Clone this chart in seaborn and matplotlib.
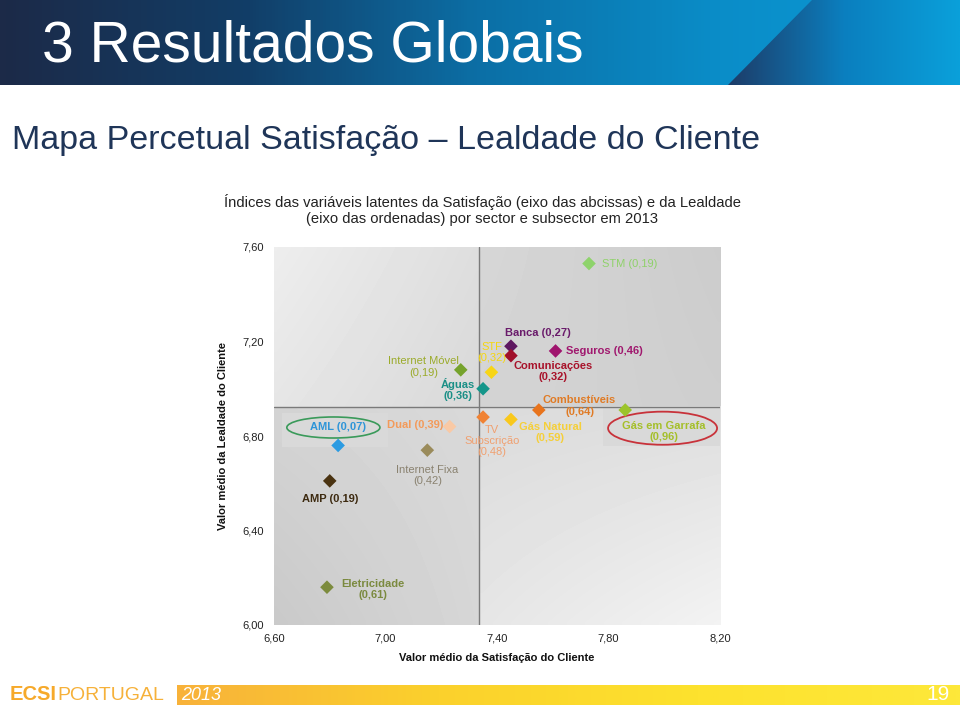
import matplotlib.pyplot as plt
import numpy as np
import pandas as pd
import seaborn as sns
from matplotlib.patches import Ellipse, Rectangle, Polygon
from matplotlib.colors import LinearSegmentedColormap

# Data
sectors = ["STM", "Banca", "Seguros", "Comunicações", "STF", "Internet Móvel",
           "Águas", "Combustíveis", "Gás em Garrafa", "TV Subscrição",
           "Gás Natural", "Dual", "Internet Fixa", "AML", "AMP", "Eletricidade"]
satisfacao = [7.73, 7.45, 7.61, 7.45, 7.38, 7.27, 7.35, 7.55, 7.86, 7.35,
              7.45, 7.23, 7.15, 6.83, 6.80, 6.79]
lealdade = [7.53, 7.18, 7.16, 7.14, 7.07, 7.08, 7.00, 6.91, 6.91, 6.88,
            6.87, 6.84, 6.74, 6.76, 6.61, 6.16]
labels = ["STM (0,19)", "Banca (0,27)", "Seguros (0,46)", "Comunicações\n(0,32)",
          "STF\n(0,32)", "Internet Móvel\n(0,19)", "Águas\n(0,36)",
          "Combustíveis\n(0,64)", "Gás em Garrafa\n(0,96)", "TV\nSubscrição\n(0,48)",
          "Gás Natural\n(0,59)", "Dual (0,39)", "Internet Fixa\n(0,42)",
          "AML (0,07)", "AMP (0,19)", "Eletricidade\n(0,61)"]
x_ticks = [6.6, 7.0, 7.4, 7.8, 8.2]
y_ticks = [6.0, 6.4, 6.8, 7.2, 7.6]
media_sat = 7.334
media_leal = 6.924

marker_colors = ["#8ed36b", "#5e1760", "#a0146e", "#a00f2a", "#f7d516", "#76a32c",
                 "#14968a", "#e8741d", "#9cc42a", "#f08233", "#f9c81c", "#f9c9a5",
                 "#9a8b5b", "#2b9be2", "#4a3311", "#7c8b3d"]
label_colors = ["#8fd16a", "#6a1b6b", "#a0186e", "#a8122a", "#f5d60f", "#9bab2b",
                "#1a8f86", "#e07b25", "#a5bf2a", "#f0a070", "#f5cf3a", "#f39a5a",
                "#8a8270", "#2f95d8", "#3d2a10", "#7b8a3f"]
# (dx, dy in points, ha, bold)
label_style = [
    (9.6, 0, "left", False), (19.7, 9.4, "center", True), (7.2, 0, "left", True),
    (30.5, -11.2, "center", True), (0, 14, "center", False), (-27, 2, "center", False),
    (-18, -0.7, "center", True), (29.3, 2.9, "center", True), (28, -15.5, "center", True),
    (6.5, -17, "center", False), (28.3, -9.4, "center", True), (-4.3, 1.2, "right", True),
    (0, -18.4, "center", False), (0, 13, "center", True), (0, -13, "center", True),
    (33, -1.4, "center", True),
]

df = pd.DataFrame({"sector": sectors, "satisfacao": satisfacao, "lealdade": lealdade})

sns.set_theme(style="white")
plt.rcParams["font.family"] = ["Liberation Sans", "DejaVu Sans"]

fig = plt.figure(figsize=(9.6, 7.09), dpi=100)
W, H = 960, 709


def px_axes(x0, y0, x1, y1):
    return fig.add_axes([x0 / W, 1 - y1 / H, (x1 - x0) / W, (y1 - y0) / H])


# banner
bax = px_axes(0, 0, 960, 85)
grad = np.linspace(0, 1, 300)[None, :]
banner_cmap = LinearSegmentedColormap.from_list(
    "banner", ["#1c2a48", "#123d66", "#0c6fa6", "#0a8dc8", "#0b9ad6"])
bax.imshow(grad, cmap=banner_cmap, aspect="auto", extent=[0, 960, 85, 0])
wedge_cmap = LinearSegmentedColormap.from_list("wedge", ["#1d3c68", "#0b7fbf", "#0aa0da"])
img = bax.imshow(grad, cmap=wedge_cmap, aspect="auto", extent=[728, 960, 85, 0])
img.set_clip_path(Polygon([[812, 0], [960, 0], [960, 85], [728, 85]], closed=True,
                          transform=bax.transData))
bax.set_xlim(0, 960)
bax.set_ylim(85, 0)
bax.axis("off")
fig.text(42 / W, 1 - 46 / H, "3 Resultados Globais", color="white", fontsize=41,
         va="center", ha="left")

fig.text(12 / W, 1 - 140 / H, "Mapa Percetual Satisfação – Lealdade do Cliente",
         color="#1f3558", fontsize=24.5, va="center", ha="left")
fig.text(482 / W, 1 - 210 / H,
         "Índices das variáveis latentes da Satisfação (eixo das abcissas) e da Lealdade\n"
         "(eixo das ordenadas) por sector e subsector em 2013",
         color="#222222", fontsize=10.6, va="center", ha="center", linespacing=1.2)

# main chart
ax = px_axes(274, 247, 720, 625)


def shade(x0, x1, y0, y1, tl, tr, bl, br):
    t = np.linspace(0, 1, 40)
    u, v = np.meshgrid(t, t)
    arr = (tl * (1 - u) * (1 - v) + tr * u * (1 - v) + bl * (1 - u) * v + br * u * v)
    ax.imshow(arr, cmap="gray", vmin=0, vmax=1, extent=[x0, x1, y0, y1],
              origin="upper", aspect="auto", interpolation="bilinear", zorder=0)


shade(6.6, media_sat, 6.0, media_leal, 0.83, 0.85, 0.79, 0.84)
shade(6.6, media_sat, media_leal, 7.6, 0.93, 0.87, 0.90, 0.85)
shade(media_sat, 8.2, media_leal, 7.6, 0.84, 0.80, 0.83, 0.81)
shade(media_sat, 8.2, 6.0, media_leal, 0.86, 0.87, 0.90, 0.95)
ax.set_xlim(6.6, 8.2)
ax.set_ylim(6.0, 7.6)

ax.add_patch(Rectangle((6.629, 6.753), 0.38, 0.144, color="#d9d9d9", zorder=1, lw=0))
ax.add_patch(Rectangle((7.780, 6.756), 0.42, 0.161, color="#d9d9d9", zorder=1, lw=0))
ax.add_patch(Ellipse((6.813, 6.836), 0.334, 0.089, fill=False, ec="#3a9a5a", lw=1.2, zorder=3))
ax.add_patch(Ellipse((7.994, 6.833), 0.391, 0.140, fill=False, ec="#c8323a", lw=1.3, zorder=3))

ax.axvline(media_sat, color="#7a7a7a", lw=1, zorder=2)
ax.axhline(media_leal, color="#7a7a7a", lw=1, zorder=2)

sns.scatterplot(data=df, x="satisfacao", y="lealdade", hue="sector",
                palette=dict(zip(sectors, marker_colors)), marker="D", s=48,
                linewidth=0, legend=False, ax=ax, zorder=4)

for i, txt in enumerate(labels):
    dx, dy, ha, bold = label_style[i]
    ax.annotate(txt, (satisfacao[i], lealdade[i]), xytext=(dx, dy), textcoords="offset points",
                ha=ha, va="center", fontsize=8, color=label_colors[i],
                fontweight="bold" if bold else "normal", linespacing=1.15, zorder=5)

ax.set_xticks(x_ticks)
ax.set_yticks(y_ticks)
ax.set_xticklabels([f"{v:.2f}".replace(".", ",") for v in x_ticks])
ax.set_yticklabels([f"{v:.2f}".replace(".", ",") for v in y_ticks])
ax.tick_params(axis="both", length=0, labelsize=8, colors="#222222")
ax.tick_params(axis="x", pad=6)
ax.tick_params(axis="y", pad=7)
for s in ax.spines.values():
    s.set_visible(False)
ax.set_xlabel("Valor médio da Satisfação do Cliente", fontsize=8, fontweight="bold",
              color="#111111")
ax.set_ylabel("Valor médio da Lealdade do Cliente", fontsize=8, fontweight="bold",
              color="#111111")
ax.xaxis.set_label_coords(0.5, -0.075)
ax.yaxis.set_label_coords(-0.103, 0.5)

# footer
fax = px_axes(177, 685, 960, 705)
foot_cmap = LinearSegmentedColormap.from_list("foot", ["#f8b23a", "#fbd12c", "#fde22e", "#fde83a"])
fax.imshow(grad, cmap=foot_cmap, aspect="auto", extent=[0, 1, 0, 1])
fax.set_xlim(0, 1)
fax.set_ylim(0, 1)
fax.axis("off")
fig.text(10 / W, 1 - 695 / H, "ECSI", color="#f6a92a", fontsize=14.5, fontweight="bold",
         va="center", ha="left")
fig.text(57 / W, 1 - 695 / H, "PORTUGAL", color="#f6b13a", fontsize=14,
         va="center", ha="left")
fig.text(181 / W, 1 - 695 / H, "2013", color="white", fontsize=13, fontstyle="italic",
         va="center", ha="left")
fig.text(938 / W, 1 - 695 / H, "19", color="white", fontsize=15, va="center", ha="center")

fig.savefig("out.png", dpi=100)
